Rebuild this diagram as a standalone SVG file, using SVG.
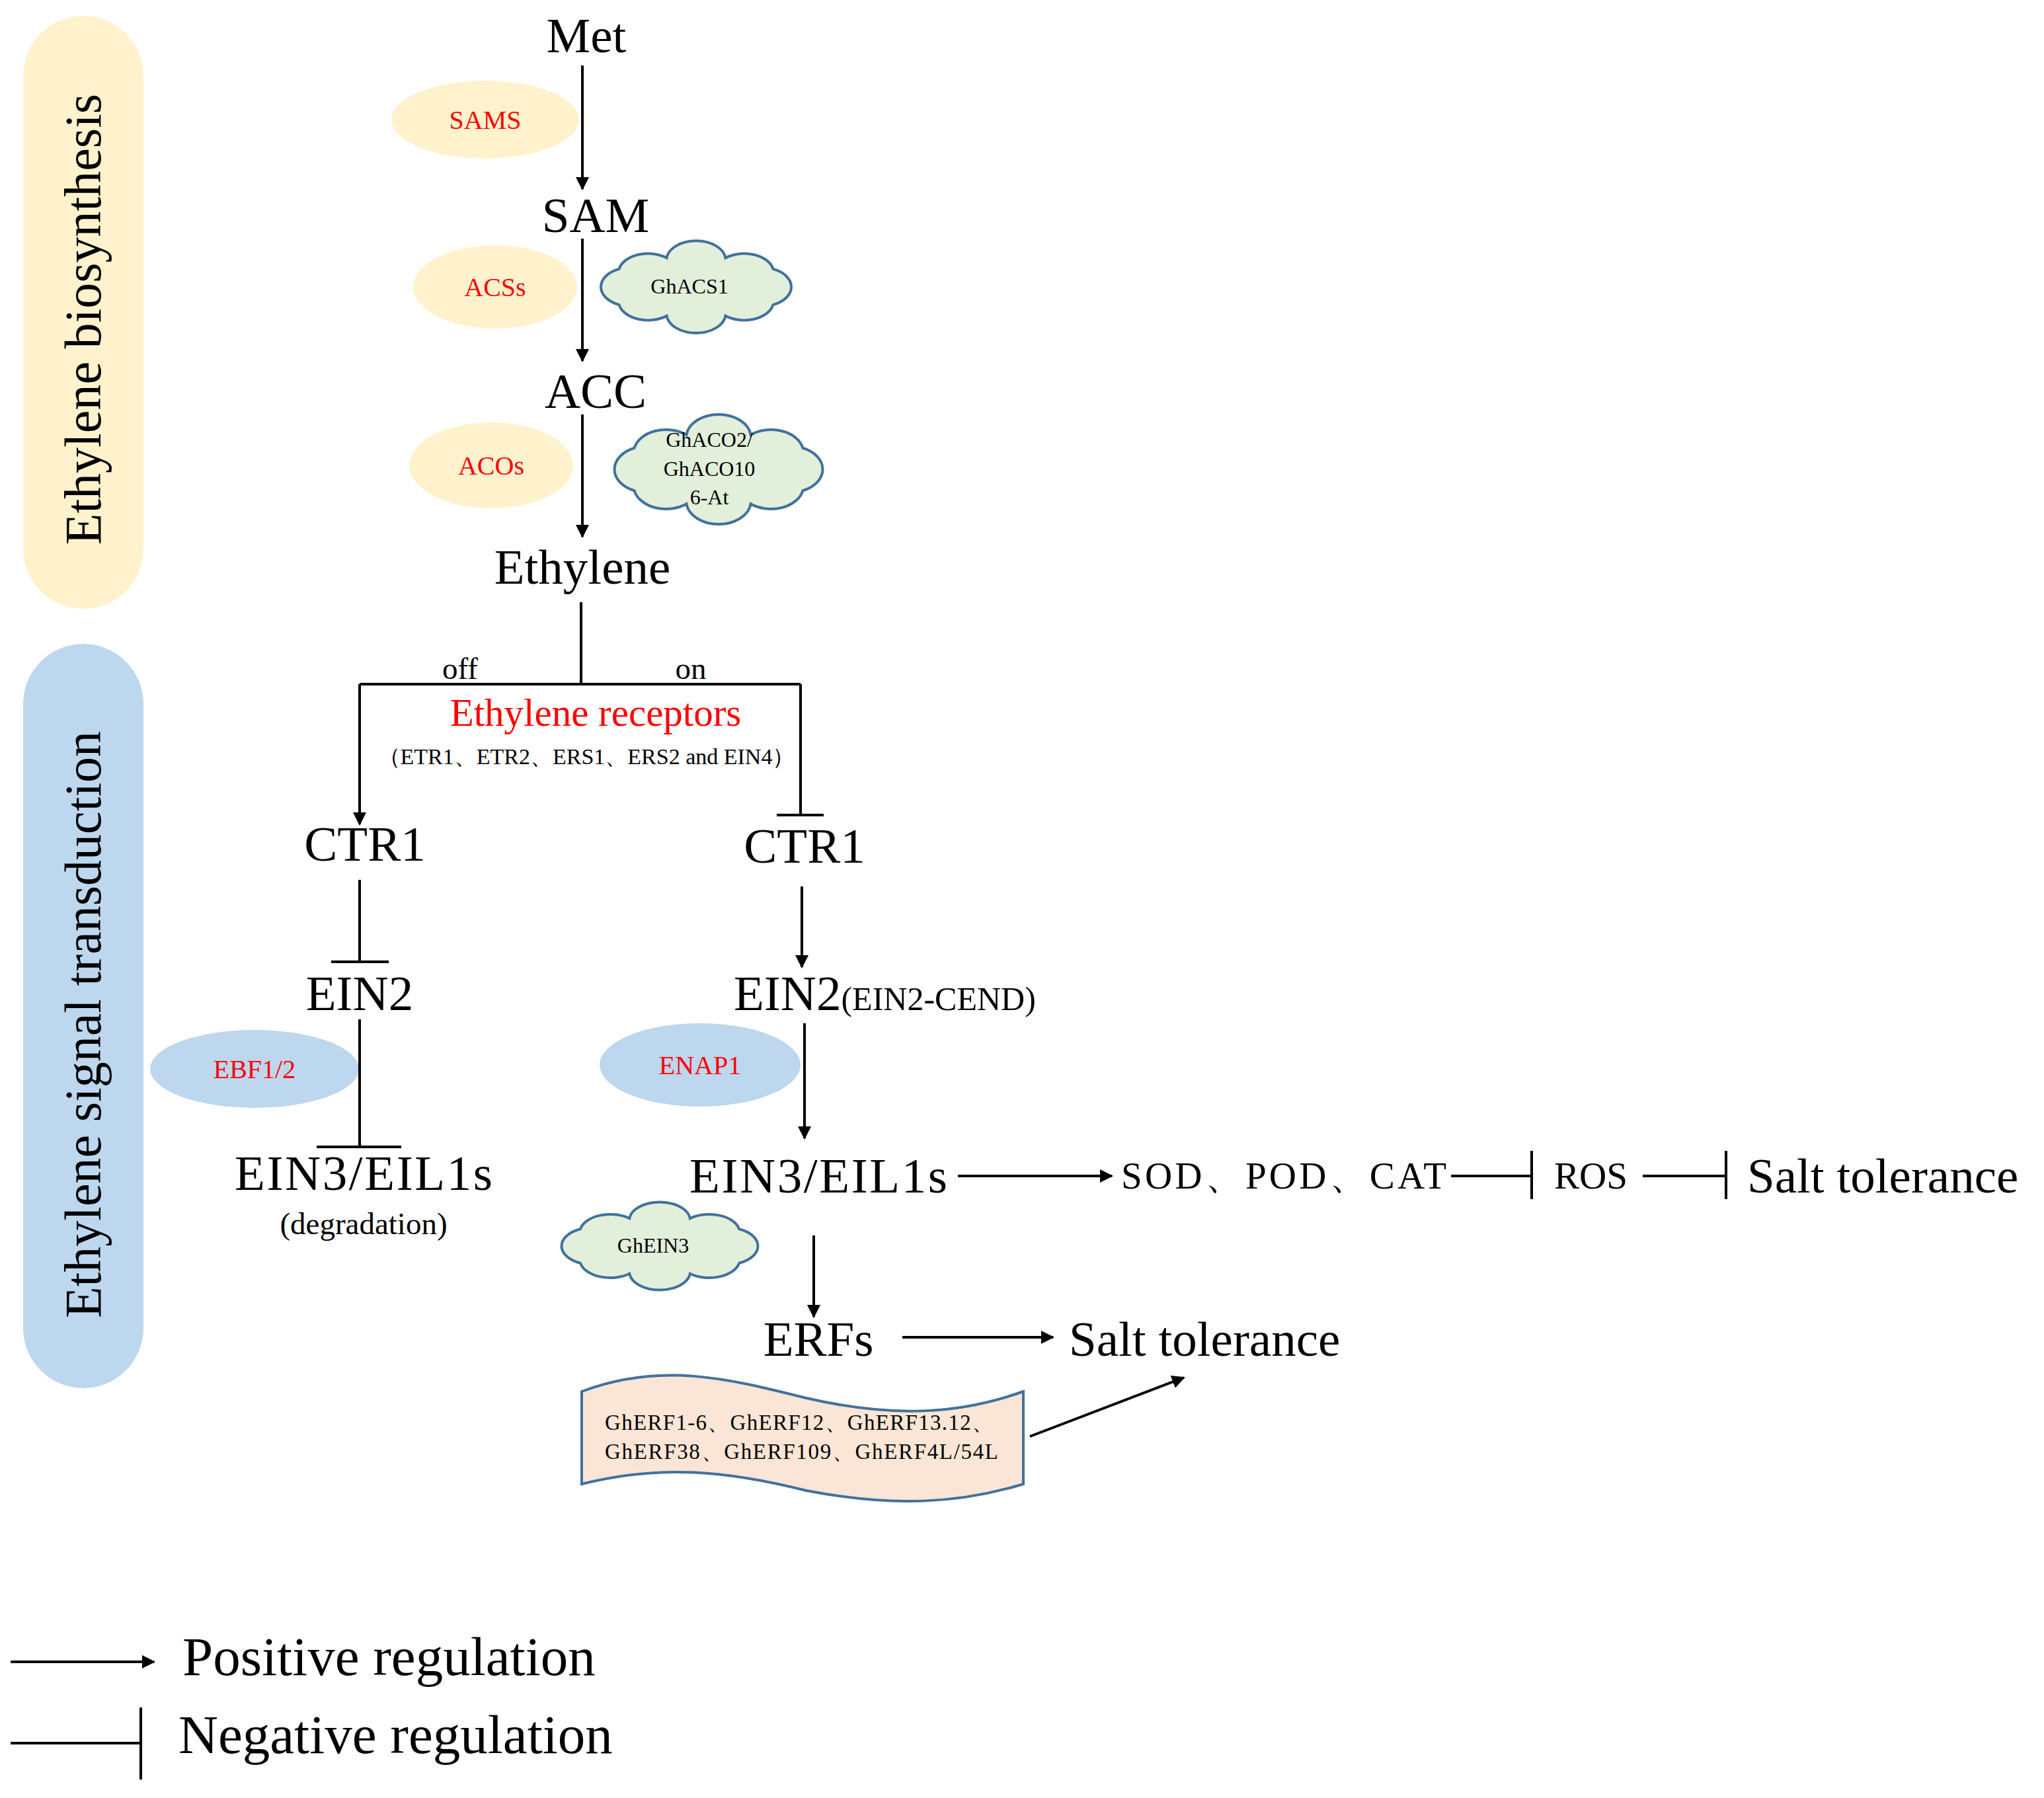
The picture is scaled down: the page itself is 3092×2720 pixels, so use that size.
<svg xmlns="http://www.w3.org/2000/svg" width="3092" height="2720" viewBox="0 0 3092 2720">
<style>
text{font-family:"Liberation Serif","Times New Roman",serif;fill:#000}
.big{font-size:75px}
.red{fill:#ff0000}
.ln{stroke:#000;stroke-width:4;fill:none}
.cl{fill:#e2efda;stroke:#41719c;stroke-width:4}
.yel{fill:#fff2cc}
.blu{fill:#bdd7ee}
</style>
<defs>
<marker id="ah" viewBox="0 0 10 10" refX="9" refY="5" markerWidth="5" markerHeight="5" markerUnits="strokeWidth" orient="auto"><path d="M0 0L10 5L0 10Z" fill="#000"/></marker>
<path id="cloud" vector-effect="non-scaling-stroke" d="M45 0A14 14 0 0 1 36.4 12.9A14 14 0 0 1 13.9 20.9A14 14 0 0 1 -13.9 20.9A14 14 0 0 1 -36.4 12.9A14 14 0 0 1 -45 0A14 14 0 0 1 -36.4 -12.9A14 14 0 0 1 -13.9 -20.9A14 14 0 0 1 13.9 -20.9A14 14 0 0 1 36.4 -12.9A14 14 0 0 1 45 0Z"/>
</defs>
<g id="bg-biosynthesis"><rect x="35" y="24" width="182" height="897" rx="91" class="yel"/><text transform="translate(152,483) rotate(-90)" font-size="78" text-anchor="middle">Ethylene  biosynthesis</text></g>
<g id="bg-signal"><rect x="35" y="974" width="182" height="1126" rx="91" class="blu"/><text transform="translate(152,1550) rotate(-90)" font-size="78" text-anchor="middle">Ethylene  signal transduction</text></g>
<g id="Met"><text x="887" y="79" class="big" text-anchor="middle">Met</text></g>
<g id="SAMS"><ellipse cx="734" cy="181" rx="142" ry="59" class="yel"/><text x="734" y="195" font-size="40" class="red" text-anchor="middle">SAMS</text></g>
<g id="SAM"><text x="901" y="351" class="big" text-anchor="middle">SAM</text></g>
<g id="ACSs"><ellipse cx="749" cy="434" rx="124" ry="63" class="yel"/><text x="749" y="448" font-size="40" class="red" text-anchor="middle">ACSs</text></g>
<g id="GhACS1"><use href="#cloud" class="cl" transform="translate(1053,434) scale(3.2,2.1)"/><text x="1043" y="444" font-size="32" text-anchor="middle">GhACS1</text></g>
<g id="ACC"><text x="901" y="617" class="big" text-anchor="middle">ACC</text></g>
<g id="ACOs"><ellipse cx="743" cy="704" rx="124" ry="65" class="yel"/><text x="743" y="718" font-size="40" class="red" text-anchor="middle">ACOs</text></g>
<g id="GhACO"><use href="#cloud" class="cl" transform="translate(1087,710) scale(3.5,2.5)"/><text font-size="32" text-anchor="middle"><tspan x="1073" y="676">GhACO2/</tspan><tspan x="1073" y="720">GhACO10</tspan><tspan x="1073" y="763">6-At</tspan></text></g>
<g id="Ethylene"><text x="881" y="883" class="big" text-anchor="middle">Ethylene</text></g>
<g id="receptors"><text x="901" y="1098" font-size="59" class="red" text-anchor="middle">Ethylene receptors</text><text x="887" y="1156" font-size="34" text-anchor="middle">（ETR1、ETR2、ERS1、ERS2 and EIN4）</text></g>
<g id="labels-offon"><text x="696" y="1027" font-size="47" text-anchor="middle">off</text><text x="1045" y="1027" font-size="47" text-anchor="middle">on</text></g>
<g id="CTR1-left"><text x="552" y="1302" class="big" text-anchor="middle">CTR1</text></g>
<g id="CTR1-right"><text x="1217" y="1305" class="big" text-anchor="middle">CTR1</text></g>
<g id="EIN2-left"><text x="544" y="1528" class="big" text-anchor="middle">EIN2</text></g>
<g id="EBF12"><ellipse cx="385" cy="1617" rx="158" ry="59" class="blu"/><text x="385" y="1631" font-size="40" class="red" text-anchor="middle">EBF1/2</text></g>
<g id="EIN3-left"><text x="550" y="1800" class="big" text-anchor="middle" textLength="390">EIN3/EIL1s</text><text x="550" y="1867" font-size="47" text-anchor="middle">(degradation)</text></g>
<g id="EIN2-right"><text x="1110" y="1528" class="big">EIN2<tspan font-size="50">(EIN2-CEND)</tspan></text></g>
<g id="ENAP1"><ellipse cx="1059" cy="1611" rx="152" ry="63" class="blu"/><text x="1059" y="1625" font-size="40" class="red" text-anchor="middle">ENAP1</text></g>
<g id="EIN3-right"><text x="1238" y="1804" class="big" text-anchor="middle" textLength="390">EIN3/EIL1s</text></g>
<g id="SODPODCAT"><text x="1696" y="1798" font-size="57" textLength="492">SOD、POD、CAT</text></g>
<g id="ROS"><text x="2351" y="1798" font-size="57">ROS</text></g>
<g id="Salt1"><text x="2643" y="1804" font-size="75">Salt tolerance</text></g>
<g id="GhEIN3"><use href="#cloud" class="cl" transform="translate(998,1885) scale(3.3,2.0)"/><text x="988" y="1895" font-size="32" text-anchor="middle">GhEIN3</text></g>
<g id="ERFs"><text x="1238" y="2051" class="big" text-anchor="middle">ERFs</text></g>
<g id="Salt2"><text x="1617" y="2051" font-size="75">Salt tolerance</text></g>
<g id="GhERFs"><path d="M880 2105C1000 2060 1100 2085 1220 2115C1350 2145 1450 2140 1548 2105L1548 2245C1450 2275 1350 2280 1220 2255C1100 2225 1000 2215 880 2245Z" fill="#fbe5d6" stroke="#41719c" stroke-width="4"/><text font-size="33"><tspan x="915" y="2163" textLength="588">GhERF1-6、GhERF12、GhERF13.12、</tspan><tspan x="915" y="2207" textLength="595">GhERF38、GhERF109、GhERF4L/54L</tspan></text></g>
<g id="legend"><text x="276" y="2534" font-size="83">Positive regulation</text><text x="270" y="2652" font-size="83">Negative regulation</text></g>
<g id="connectors" class="ln">
<line x1="881" y1="99" x2="881" y2="286" marker-end="url(#ah)"/>
<line x1="881" y1="361" x2="881" y2="546" marker-end="url(#ah)"/>
<line x1="881" y1="627" x2="881" y2="812" marker-end="url(#ah)"/>
<line x1="879" y1="911" x2="879" y2="1035"/>
<line x1="544" y1="1035" x2="1211" y2="1035"/>
<line x1="544" y1="1035" x2="544" y2="1247" marker-end="url(#ah)"/>
<line x1="1211" y1="1035" x2="1211" y2="1233"/><line x1="1175" y1="1233" x2="1246" y2="1233"/>
<line x1="544" y1="1331" x2="544" y2="1455"/><line x1="501" y1="1455" x2="588" y2="1455"/>
<line x1="544" y1="1542" x2="544" y2="1735"/><line x1="479" y1="1735" x2="607" y2="1735"/>
<line x1="1213" y1="1341" x2="1213" y2="1463" marker-end="url(#ah)"/>
<line x1="1217" y1="1548" x2="1217" y2="1722" marker-end="url(#ah)"/>
<line x1="1449" y1="1779" x2="1682" y2="1779" marker-end="url(#ah)"/>
<line x1="2195" y1="1779" x2="2317" y2="1779"/><line x1="2317" y1="1741" x2="2317" y2="1814"/>
<line x1="2485" y1="1779" x2="2611" y2="1779"/><line x1="2611" y1="1741" x2="2611" y2="1814"/>
<line x1="1231" y1="1869" x2="1231" y2="1992" marker-end="url(#ah)"/>
<line x1="1365" y1="2023" x2="1593" y2="2023" marker-end="url(#ah)"/>
<line x1="1558" y1="2173" x2="1791" y2="2084" marker-end="url(#ah)"/>
<line x1="16" y1="2514" x2="233" y2="2514" marker-end="url(#ah)"/>
<line x1="16" y1="2637" x2="213" y2="2637"/><line x1="213" y1="2583" x2="213" y2="2692"/>
</g>
</svg>
